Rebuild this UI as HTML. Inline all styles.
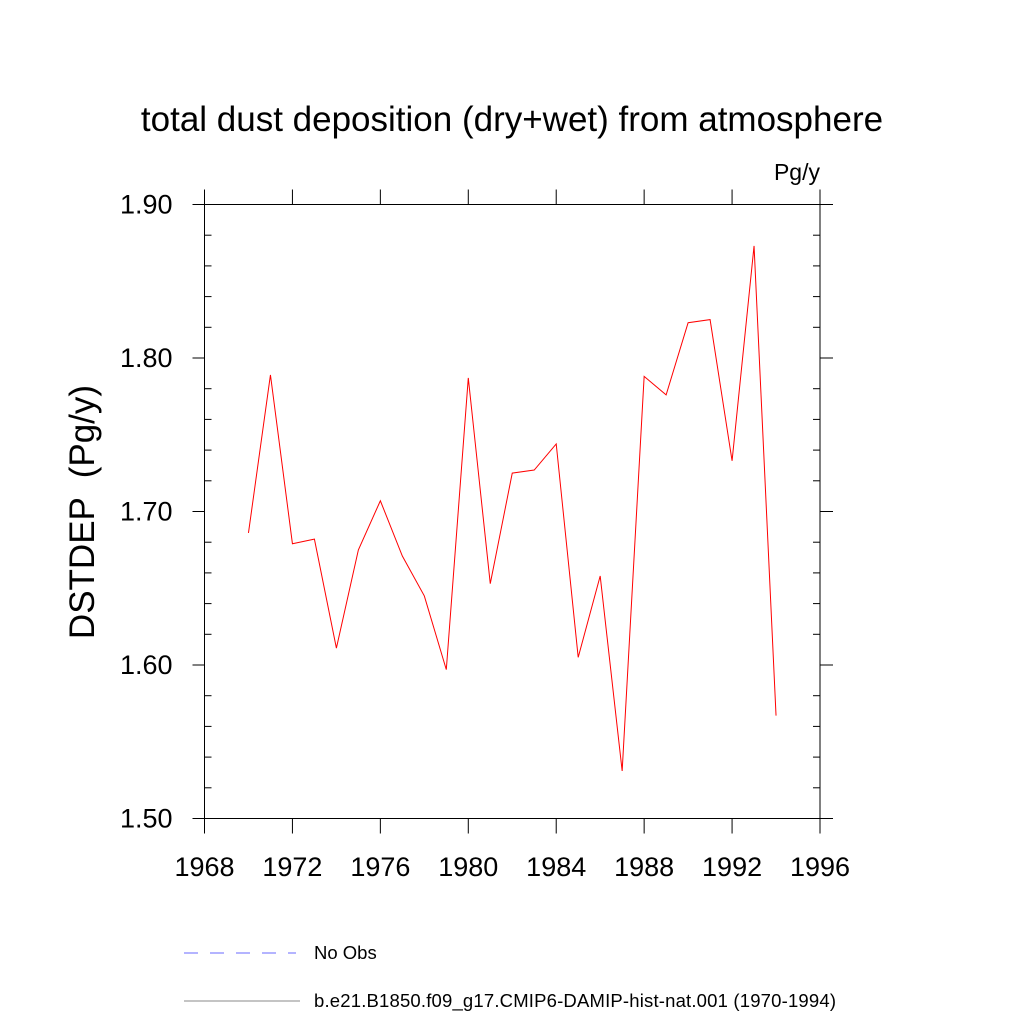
<!DOCTYPE html>
<html><head><meta charset="utf-8"><style>body{margin:0;background:#fff}svg{font-family:"Liberation Sans",sans-serif}</style></head>
<body>
<svg id="c" width="1024" height="1024">
<text x="512" y="131" font-size="35" text-anchor="middle">total dust deposition (dry+wet) from atmosphere</text>
<text x="820" y="180" font-size="23" text-anchor="end">Pg/y</text>
<text transform="translate(94,512) rotate(-90)" font-size="35" text-anchor="middle" xml:space="preserve">DSTDEP  (Pg/y)</text>
<g id="axes"></g>
<polyline id="line" fill="none" stroke="#ff0000" stroke-width="1"/>
<g>
<line x1="184" y1="953" x2="296" y2="953" stroke="#6a6aff" stroke-dasharray="14,12"/>
<text x="314" y="959" font-size="18.5">No Obs</text>
<line x1="184" y1="1001" x2="300" y2="1001" stroke="#888"/>
<text x="314" y="1007" font-size="18.5" textLength="522">b.e21.B1850.f09_g17.CMIP6-DAMIP-hist-nat.001 (1970-1994)</text>
</g>
</svg>
<script>
const years=[1970,1971,1972,1973,1974,1975,1976,1977,1978,1979,1980,1981,1982,1983,1984,1985,1986,1987,1988,1989,1990,1991,1992,1993,1994];
const values=[1.686,1.789,1.679,1.682,1.611,1.675,1.707,1.671,1.645,1.597,1.787,1.653,1.725,1.727,1.744,1.605,1.658,1.531,1.788,1.776,1.823,1.825,1.733,1.873,1.567];
const xTicks=[1968,1972,1976,1980,1984,1988,1992,1996];
const yTicks=[1.5,1.6,1.7,1.8,1.9];
const yTickLabels=["1.50","1.60","1.70","1.80","1.90"];
const L=204.5,R=820,T=204.5,B=818.5;
const sx=v=>L+(v-1968)/(28)*(R-L);
const sy=v=>B-(v-1.5)/0.4*(B-T);
const ns="http://www.w3.org/2000/svg";
const g=document.getElementById('axes');
function ln(x1,y1,x2,y2,n){const e=document.createElementNS(ns,'line');e.setAttribute('x1',x1);e.setAttribute('y1',y1);e.setAttribute('x2',x2);e.setAttribute('y2',y2);e.setAttribute('stroke','#000');e.setAttribute('stroke-width','1');


g.appendChild(e);}
function tx(x,y,s,a,n){const e=document.createElementNS(ns,'text');e.setAttribute('x',x);e.setAttribute('y',y);e.setAttribute('font-size','27');e.setAttribute('text-anchor',a);e.textContent=s;


g.appendChild(e);}
ln(L,T,R,T,'plot-frame-top');ln(L,B,R,B,'plot-frame-bottom');ln(L,T,L,B,'plot-frame-left');ln(R,T,R,B,'plot-frame-right');
xTicks.forEach(v=>{const x=sx(v);ln(x,B,x,B+15,'x-tick');ln(x,T,x,T-15,'x-tick-top');tx(x,876,String(v),'middle','x-tick-label');});
yTicks.forEach((v,i)=>{const y=sy(v);ln(L-12,y,L,y,'y-tick');ln(R,y,R+13,y,'y-tick-right');tx(L-32,y+9,yTickLabels[i],'end','y-tick-label');});
for(let v=1.52;v<1.9;v+=0.02){if(Math.abs(v*10-Math.round(v*10))<1e-6)continue;const y=sy(v);ln(L,y,L+7,y,'y-minor-tick');ln(R-7,y,R,y,'y-minor-tick-right');}
document.getElementById('line').setAttribute('points',years.map((y,i)=>sx(y)+','+sy(values[i])).join(' '));
</script>
</body></html>
